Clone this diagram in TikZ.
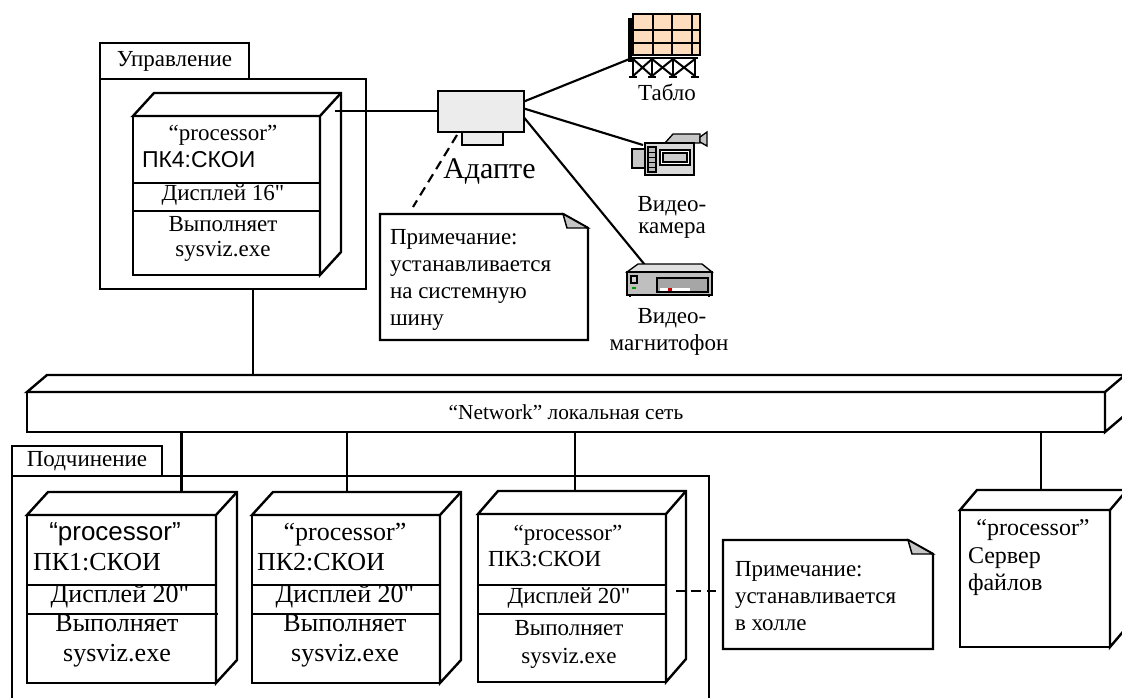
\documentclass[tikz,border=0pt]{standalone}
\usepackage{fontspec}
\setmainfont{Liberation Serif}
\newfontfamily\arialf{Liberation Sans}
\usetikzlibrary{calc}

% text sizes
\newcommand\sizeA{\fontsize{17.25pt}{20pt}\selectfont}
\newcommand\sizeB{\fontsize{19.5pt}{22pt}\selectfont}
\newcommand\sizeC{\fontsize{22.5pt}{26pt}\selectfont}
\newcommand\sizeD{\fontsize{16pt}{19pt}\selectfont}

% serif faces loaded without the TeX mapping, for the straight inch mark
\font\inchA="Liberation Serif" at 17.25pt
\font\inchB="Liberation Serif" at 19.5pt
\newcommand\inA{{\inchA"}}
\newcommand\inB{{\inchB"}}

% top and side faces of a 3D node box
\newcommand\cubeback[3]{%
  \draw[lw, fill=white, line join=miter] (#1.north west) -- ($(#1.north west)+(#2,-#3)$)
    -- ($(#1.north east)+(#2,-#3)$) -- ($(#1.south east)+(#2,-#3)$)
    -- (#1.south east) -- (#1.north east) -- cycle;
  \draw[lw] (#1.north east) -- ++(#2,-#3);}

% comment box with folded corner
\newcommand\notefold[1]{%
  \draw[lw, fill=white] (#1.north west) -- ($(#1.north east)+(-25,0)$)
    -- ($(#1.north east)+(0,14)$) -- (#1.south east) -- (#1.south west) -- cycle;
  \draw[line width=1.1pt, fill=gray!45] ($(#1.north east)+(-25,0)$)
    -- ($(#1.north east)+(-21,14)$) -- ($(#1.north east)+(0,14)$) -- cycle;}

\begin{document}
\begin{tikzpicture}[x=0.75pt,y=-0.75pt,
  lw/.style={line width=1.8pt},
  face/.style 2 args={draw, line width=1.8pt, fill=white, inner sep=0pt, outer sep=0pt,
    minimum width=#1*0.75pt, minimum height=#2*0.75pt},
  area/.style 2 args={inner sep=0pt, outer sep=0pt,
    minimum width=#1*0.75pt, minimum height=#2*0.75pt},
  lbl/.style={inner sep=0pt, outer sep=0pt, font=\sizeA},
  txtc/.style={lbl, anchor=mid},
  txtl/.style={lbl, anchor=mid west},
  conn/.style={line width=1.6pt},
  hint/.style={line width=1.6pt, dash pattern=on 7pt off 4.5pt}
]
\useasboundingbox (0,0) rectangle (1122,697);
\clip (0,0) rectangle (1122,697);

% ---------------- packages ----------------
\node[face={149}{36}, font=\sizeA] (tabU) at (174.5,61) {Управление};
\node[face={266}{210}] (pkgU) at (233,184) {};
\node[face={150}{30}, font=\sizeA] (tabP) at (87,461) {Подчинение};
\node[face={697}{244}] (pkgP) at (360.5,598) {};

% ---------------- control workstation ----------------
\node[face={187}{159}] (c4) at (226.5,195.5) {};
\cubeback{c4}{21}{23}
\draw[lw] (c4.west |- 0,183) -- (c4.east |- 0,183);
\draw[lw] (c4.west |- 0,211) -- (c4.east |- 0,211);
\node[txtc] (c4a) at (223,137) {“processor”};
\node[txtl, font=\sizeA\arialf] (c4b) at (142,164) {ПК4:СКОИ};
\node[txtc] (c4c) at (223,197) {Дисплей 16\inA};
\node[txtc] (c4d) at (223,228) {Выполняет};
\node[txtc] (c4e) at (223,253) {sysviz.exe};

% ---------------- adapter ----------------
\node[face={41}{13}, fill=gray!15] (adsub) at (482.5,138.5) {};
\node[face={86}{41}, fill=gray!15] (adapter) at (481,111.5) {};
\node[inner sep=0pt, anchor=base west, font=\sizeC] (adlbl) at (443,178) {Адапте};

% ---------------- network bar ----------------
\node[face={1078}{40}, font=\sizeD] (net) at (566,412) {“Network” локальная сеть};
\cubeback{net}{20}{17}
\coordinate (netback) at ($(net.north west)+(20,-17)$);

% ---------------- subordinate workstations ----------------
\node[face={189}{168}] (c1) at (121.5,599) {};
\cubeback{c1}{21}{23}
\draw[lw] (c1.west |- 0,585) -- (c1.east |- 0,585);
\draw[lw] (c1.west |- 0,614) -- ($(c1.east |- 0,614)+(2,0)$);
\node[txtc, font=\sizeB\arialf] (c1a) at (115,537) {“processor”};
\node[txtl, font=\sizeB] (c1b) at (33,567) {ПК1:СКОИ};
\node[txtc, font=\sizeB] (c1c) at (120,599) {Дисплей 20\inB};
\node[txtc, font=\sizeB] (c1d) at (117,628) {Выполняет};
\node[txtc, font=\sizeB] (c1e) at (117,658) {sysviz.exe};

\node[face={188}{168}] (c2) at (346,599) {};
\cubeback{c2}{21}{23}
\draw[lw] (c2.west |- 0,585) -- (c2.east |- 0,585);
\draw[lw] (c2.west |- 0,614) -- (c2.east |- 0,614);
\node[txtc, font=\sizeB] (c2a) at (345,537) {“processor”};
\node[txtl, font=\sizeB] (c2b) at (257,567) {ПК2:СКОИ};
\node[txtc, font=\sizeB] (c2c) at (345,599) {Дисплей 20\inB};
\node[txtc, font=\sizeB] (c2d) at (345,628) {Выполняет};
\node[txtc, font=\sizeB] (c2e) at (345,658) {sysviz.exe};

\node[face={188}{168}] (c3) at (572,598) {};
\cubeback{c3}{20}{23}
\draw[lw] (c3.west |- 0,585) -- (c3.east |- 0,585);
\draw[lw] (c3.west |- 0,614) -- (c3.east |- 0,614);
\node[txtc] (c3a) at (568,537) {“processor”};
\node[txtl] (c3b) at (488,563) {ПК3:СКОИ};
\node[txtc] (c3c) at (569,600) {Дисплей 20\inA};
\node[txtc] (c3d) at (569,632) {Выполняет};
\node[txtc] (c3e) at (569,660) {sysviz.exe};

% ---------------- file server ----------------
\node[face={150}{137}] (srv) at (1035,578.5) {};
\cubeback{srv}{17}{20}
\node[txtc, font=\fontsize{18pt}{21pt}\selectfont] (srva) at (1033,532) {“processor”};
\node[txtl, font=\fontsize{18pt}{21pt}\selectfont] (srvb) at (968,560) {Сервер};
\node[txtl, font=\fontsize{18pt}{21pt}\selectfont] (srvc) at (968,587) {файлов};

% ---------------- notes ----------------
\node[area={208}{126}] (note1) at (484,277) {};
\notefold{note1}
\node[txtl] (n1a) at (390,241) {Примечание:};
\node[txtl] (n1b) at (390,268) {устанавливается};
\node[txtl] (n1c) at (390,295) {на системную};
\node[txtl] (n1d) at (390,322) {шину};

\node[area={210}{109}] (note2) at (828,594.5) {};
\notefold{note2}
\node[txtl] (n2a) at (735,573) {Примечание:};
\node[txtl] (n2b) at (735,600) {устанавливается};
\node[txtl] (n2c) at (735,627) {в холле};

% ---------------- peripheral icons ----------------
\node[area={68}{63}] (tablo) at (666,45.5) {};
\node[area={77}{43}] (camera) at (668.5,153.5) {};
\node[area={86}{32}] (vcr) at (669,280) {};

% connectors
\coordinate (c4port) at ($(c4.north east)+(15,-5)$);
\draw[conn] (c4port) -- (adapter.west |- c4port);
\draw[conn] ($(adapter.east)+(0,-10)$) -- ($(tablo.south west)+(0,-19)$);
\draw[conn] ($(adapter.east)+(0,-3)$) -- ($(camera.north west)+(13,13)$);
\draw[conn] ($(adapter.east)+(0,6)$) -- ($(vcr.north west)+(19,1)$);
\draw[hint] ($(adsub.south west)+(-5,-10)$) -- ($(note1.north west)+(33,-7)$);
\coordinate (c3port) at ($(c3.east)+(10,-7)$);
\draw[hint] (c3port) -- (note2.west |- c3port);

\coordinate (uDown) at ($(pkgU.south)+(20,0)$);
\draw[conn] (uDown) -- (uDown |- netback);
\coordinate (c1up) at ($(c1.north)+(60,-23)$);
\draw[conn] (c1up) -- (c1up |- net.south);
\coordinate (c2up) at ($(c2.north)+(1,-23)$);
\draw[conn] (c2up) -- (c2up |- net.south);
\coordinate (c3up) at ($(c3.north)+(3,-23)$);
\draw[conn] (c3up) -- (c3up |- net.south);
\coordinate (srvup) at ($(srv.north)+(6,-20)$);
\draw[conn] (srvup) -- (srvup |- net.south);

% scoreboard
\draw[line width=2.2pt, fill={rgb,255:red,253;green,221;blue,190}] (633,14) rectangle (700,55);
\draw[line width=1.5pt] (653,14) -- (653,55) (672,14) -- (672,55) (692,14) -- (692,55)
  (633,30) -- (700,30) (633,43) -- (700,43);
\draw[line width=2.4pt] (630,18) -- (630,62);
\draw[line width=2pt] (630,58) -- (698,58);
\draw[line width=2pt] (633,58) -- (633,77) (652,58) -- (652,77) (673,58) -- (673,77) (695,58) -- (695,77);
\draw[line width=1.5pt] (633,59) -- (652,76) (652,59) -- (633,76) (652,59) -- (673,76) (673,59) -- (652,76)
  (673,59) -- (695,76) (695,59) -- (673,76);
\draw[line width=2pt] (629,77) -- (637,77) (648,77) -- (656,77) (669,77) -- (677,77) (691,77) -- (699,77);
\node[txtc] (tabloLbl) at (667,97) {Табло};

% video camera
\draw[line width=1pt, fill=gray!45] (665,143) -- (673,134) -- (700,134) -- (700,143) -- cycle;
\draw[line width=1pt, fill=gray!45] (700,137) -- (707,132) -- (707,146) -- (700,142) -- cycle;
\draw[line width=1pt, fill=gray!45] (632,149) rectangle (646,168);
\draw[line width=1pt, fill=gray!30] (645,143) rectangle (694,175);
\draw[line width=1pt, fill=gray!55] (648,147) rectangle (656,172);
\foreach \yy in {152,157,162,167} \draw[line width=0.6pt] (648,\yy) -- (656,\yy);
\draw[line width=1pt, fill=white] (660,150) rectangle (690,165);
\draw[line width=0.8pt, fill=gray!40] (663,153) rectangle (687,162);
\node[txtc] (camLbl1) at (672,208) {Видео-};
\node[txtc] (camLbl2) at (672,230) {камера};

% video recorder
\draw[line width=1pt, fill=gray!25] (627,272) -- (638,264) -- (702,264) -- (712,272) -- cycle;
\draw[line width=1pt, fill=gray!50] (627,272) rectangle (712,295);
\draw[line width=0.8pt, fill=gray!35] (631,276) rectangle (637,283);
\fill[green!60!black] (632,287) rectangle (636,289);
\draw[line width=0.8pt, fill=gray!70] (657,278) rectangle (708,292);
\fill[white] (660,288) rectangle (690,291);
\fill[red!80!black] (668,288) rectangle (672,291);
\draw[line width=1pt] (630,295) -- (630,297) (709,295) -- (709,297);
\node[txtc] (vcrLbl1) at (672,320) {Видео-};
\node[txtc] (vcrLbl2) at (669,347) {магнитофон};
\end{tikzpicture}
\end{document}
